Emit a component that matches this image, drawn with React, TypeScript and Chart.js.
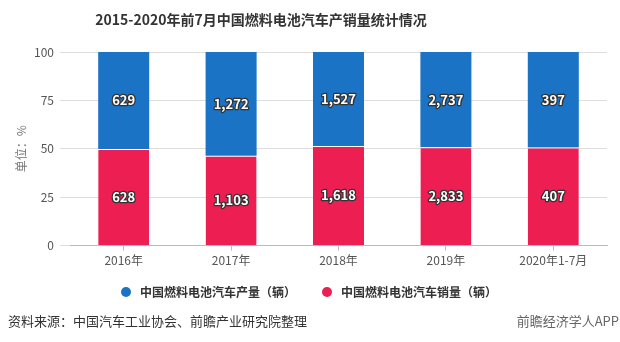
import React, { useEffect, useRef } from "react";
import { Chart, registerables } from "chart.js";

Chart.register(...registerables);

const categories = ["2016年", "2017年", "2018年", "2019年", "2020年1-7月"];
const productionValues = [629, 1272, 1527, 2737, 397];
const salesValues = [628, 1103, 1618, 2833, 407];
const yTicks = [0, 25, 50, 75, 100];
const productionLabel = "中国燃料电池汽车产量（辆）";
const salesLabel = "中国燃料电池汽车销量（辆）";
const titleText = "2015-2020年前7月中国燃料电池汽车产销量统计情况";
const sourceText = "资料来源：中国汽车工业协会、前瞻产业研究院整理";
const brandText = "前瞻经济学人APP";
const yTitle = "单位：%";

const BLUE = "#1a73c4";
const RED = "#ec1e52";
const FONT = "'Noto Sans CJK SC', 'Noto Sans', sans-serif";

function dot(color: string) {
  const c = document.createElement("canvas");
  c.width = 24;
  c.height = 10;
  const g = c.getContext("2d")!;
  g.fillStyle = color;
  g.beginPath();
  g.arc(16, 5, 5, 0, Math.PI * 2);
  g.fill();
  return c;
}

export default function App() {
  const ref = useRef<HTMLCanvasElement | null>(null);
  useEffect(() => {
    if (!ref.current) return;
    const totals = productionValues.map((p, i) => p + salesValues[i]);
    const salesPct = salesValues.map((v, i) => (v / totals[i]) * 100);
    const prodPct = productionValues.map((v, i) => (v / totals[i]) * 100);
    const rawByDataset = [salesValues, productionValues];

    const labelPlugin = {
      id: "segLabels",
      afterDatasetsDraw(chart: any) {
        const ctx = chart.ctx;
        ctx.save();
        ctx.font = `bold 13px ${FONT}`;
        ctx.textAlign = "center";
        ctx.textBaseline = "middle";
        ctx.lineJoin = "round";
        chart.data.datasets.forEach((_: any, di: number) => {
          const meta = chart.getDatasetMeta(di);
          meta.data.forEach((el: any, i: number) => {
            const t = rawByDataset[di][i].toLocaleString("en-US");
            const y = (el.y + el.base) / 2;
            ctx.lineWidth = 2.5;
            ctx.strokeStyle = "#333333";
            ctx.strokeText(t, el.x, y);
            ctx.fillStyle = "#ffffff";
            ctx.fillText(t, el.x, y);
          });
        });
        ctx.restore();
      },
    };

    const textPlugin = {
      id: "texts",
      afterDraw(chart: any) {
        const ctx = chart.ctx;
        ctx.save();
        ctx.textBaseline = "middle";
        ctx.font = `bold 14px ${FONT}`;
        ctx.fillStyle = "#333333";
        ctx.textAlign = "center";
        ctx.fillText(titleText, 261, 20);
        ctx.font = `13px ${FONT}`;
        ctx.fillStyle = "#333333";
        ctx.textAlign = "left";
        ctx.fillText(sourceText, 8, 321);
        ctx.fillStyle = "#666666";
        ctx.textAlign = "right";
        ctx.fillText(brandText, 619, 321);
        ctx.restore();
      },
    };

    const chart = new Chart(ref.current, {
      type: "bar",
      data: {
        labels: categories,
        datasets: [
          {
            label: salesLabel,
            data: salesPct,
            backgroundColor: RED,
            borderColor: "#ffffff",
            borderWidth: { top: 1, left: 0, right: 0, bottom: 0 },
            borderSkipped: false,
            pointStyle: dot(RED),
          } as any,
          {
            label: productionLabel,
            data: prodPct,
            backgroundColor: BLUE,
            borderWidth: 0,
            pointStyle: dot(BLUE),
          } as any,
        ],
      },
      options: {
        animation: false,
        responsive: false,
        layout: { padding: { top: 52, right: 13, bottom: 34, left: 0 } },
        datasets: { bar: { categoryPercentage: 1, barPercentage: 0.475 } },
        scales: {
          x: {
            stacked: true,
            grid: {
              drawOnChartArea: false,
              drawTicks: true,
              tickLength: 5,
              offset: false,
              color: "#bbbbbb",
            },
            border: { color: "#bbbbbb" },
            ticks: { padding: 3, color: "#555555", font: { size: 12, family: FONT } },
          },
          y: {
            stacked: true,
            min: 0,
            max: 100,
            afterBuildTicks(scale: any) {
              scale.ticks = yTicks.map((v) => ({ value: v }));
            },
            grid: { color: "#dddddd", tickLength: 10 },
            border: { display: false },
            ticks: { padding: 6, color: "#555555", font: { size: 12, family: FONT } },
            title: {
              display: true,
              text: yTitle,
              color: "#777777",
              font: { size: 12, family: FONT },
              padding: { top: 14, bottom: 0 },
            },
            afterFit(scale: any) {
              scale.width = 70;
            },
          },
        },
        plugins: {
          title: { display: false },
          tooltip: { enabled: false },
          legend: {
            position: "bottom",
            reverse: true,
            labels: {
              usePointStyle: true,
              pointStyleWidth: 24,
              boxHeight: 10,
              padding: 15,
              color: "#333333",
              font: { size: 12, weight: "bold", family: FONT },
            },
          },
        },
      } as any,
      plugins: [labelPlugin, textPlugin],
    });
    return () => chart.destroy();
  }, []);

  return (
    <div style={{ position: "absolute", left: 0, top: 0, width: 620, height: 342, background: "#fff" }}>
      <canvas ref={ref} width={620} height={342} />
    </div>
  );
}
